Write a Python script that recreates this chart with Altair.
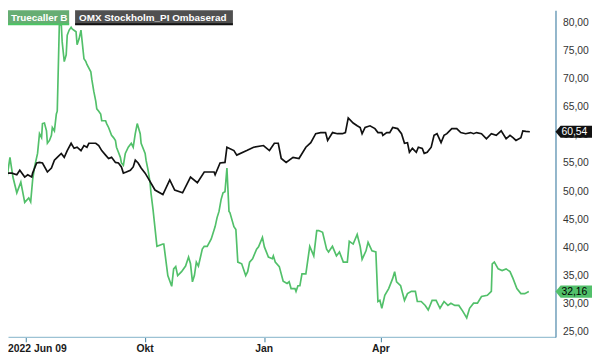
import altair as alt
import pandas as pd

START = "2022-06-09"

# ---- data (day offset from START, value) ----
truecaller_days = [2.2, 3.7, 7.5, 9.8, 12.1, 15.1, 18.2, 21.2, 24.3, 25.8, 27.3, 28.8, 31.1, 32.6, 34.2,
                   34.9, 36.4, 38.0, 38.7, 40.3, 41.8, 42.5, 44.1, 45.6, 46.3, 47.9, 49.4, 50.1, 51.7, 53.2,
                   54.0, 55.5, 57.0, 57.8, 60.8, 61.6, 63.1, 64.6, 66.9, 68.4, 69.2, 72.2, 73.0, 74.5, 76.0,
                   76.8, 78.3, 79.8, 80.6, 83.6, 84.4, 85.9, 88.2, 89.7, 91.2, 92.0, 93.5, 95.0, 95.8, 97.3,
                   98.8, 101.1, 103.4, 104.9, 106.5, 108.0, 110.3, 111.0, 114.1, 114.8, 116.4, 117.9, 118.6,
                   120.2, 123.2, 127.8, 128.5, 131.6, 134.6, 136.1, 137.7, 139.2, 142.2, 145.3, 147.6, 149.1,
                   150.6, 152.1, 153.6, 155.2, 158.2, 159.7, 162.0, 165.1, 168.1, 169.6, 171.1, 172.7, 174.2,
                   175.7, 177.2, 178.8, 179.5, 182.6, 184.1, 185.6, 188.6, 191.7, 193.2, 194.7, 197.0, 200.1,
                   201.6, 204.6, 206.1, 209.2, 212.2, 213.0, 214.5, 217.6, 220.6, 223.6, 225.2, 226.7, 229.7,
                   230.5, 232.0, 233.5, 235.1, 238.1, 241.1, 244.2, 246.5, 248.0, 251.0, 254.1, 255.6, 258.6,
                   261.7, 264.0, 267.0, 270.1, 271.6, 274.6, 277.7, 280.0, 281.5, 284.5, 286.1, 289.1, 292.1,
                   293.7, 295.2, 296.7, 299.0, 302.0, 305.1, 306.6, 308.1, 311.2, 314.2, 316.5, 319.5, 322.6,
                   324.1, 327.1, 330.2, 332.5, 335.5, 338.6, 341.6, 344.7, 347.7, 350.0, 353.0, 356.1, 359.1,
                   362.2, 364.4, 367.5, 370.5, 373.6, 378.1, 381.2, 381.9, 383.5, 386.5, 389.5, 392.6, 395.6,
                   397.9, 400.9, 404.0, 407.0, 410.1]
truecaller_vals = [52.7, 52.0, 52.3, 56.0, 52.5, 49.7, 51.6, 48.0, 48.8, 48.1, 52.0, 54.3, 56.7, 60.2, 59.5,
                   62.0, 62.1, 60.7, 58.5, 59.0, 59.9, 61.3, 60.7, 63.7, 64.2, 79.5, 79.7, 76.5, 73.0, 74.2,
                   77.7, 78.6, 79.1, 78.8, 78.3, 76.0, 77.0, 78.6, 73.5, 73.0, 72.5, 71.2, 69.8, 67.7, 66.0,
                   64.6, 64.2, 63.7, 62.5, 62.5, 62.0, 61.3, 59.9, 59.5, 59.0, 57.8, 56.9, 56.0, 55.0, 54.6,
                   56.7, 57.8, 58.5, 57.8, 60.2, 62.0, 60.2, 58.5, 56.7, 55.5, 53.7, 51.5, 49.7,
                   46.7, 40.2, 40.6, 40.6, 35.0, 33.1, 36.2, 36.6, 35.0, 35.7, 36.7, 38.3, 37.1,
                   33.9, 35.0, 37.4, 36.7, 39.7, 40.2, 40.2, 41.5, 43.7, 45.3, 46.4, 48.5, 49.7,
                   49.9, 54.1, 46.4, 46.2, 43.7, 43.2, 37.4, 37.1, 35.0, 35.7, 37.4, 38.0, 39.7,
                   40.1, 41.8, 40.1, 38.3, 38.0, 38.5, 37.4, 36.6, 34.0, 33.6, 33.9, 32.7, 32.7,
                   32.2, 33.2, 33.2, 35.3, 35.3, 40.2, 38.5, 43.0, 43.0, 42.7, 39.7, 39.2, 40.2,
                   38.5, 39.2, 37.4, 37.4, 41.1, 40.6, 42.3, 40.2, 37.9, 39.4, 40.9, 39.4, 39.2,
                   30.4, 30.6, 29.2, 31.5, 32.7, 34.5, 35.7, 33.9, 33.2, 30.6, 31.8, 32.2, 32.2,
                   30.4, 30.4, 29.7, 28.9, 30.6, 30.6, 29.2, 30.4, 29.7, 30.1, 29.7, 29.7, 28.7,
                   27.5, 29.2, 30.1, 30.1, 31.3, 31.5, 32.2, 37.1, 37.4, 36.2, 35.9, 36.2, 35.7,
                   34.5, 32.7, 31.8, 31.8, 32.16]

omx_days = [2.2, 4.5, 7.5, 11.3, 15.1, 17.4, 21.2, 23.5, 26.6, 27.3, 30.4, 32.6, 34.9, 38.7, 41.8, 44.1,
            46.3, 49.4, 51.7, 54.0, 57.0, 59.3, 61.6, 64.6, 66.9, 69.2, 70.7, 73.0, 76.0, 78.3, 80.6, 83.6,
            85.9, 88.2, 91.2, 93.5, 95.8, 97.3, 99.6, 102.7, 104.9, 106.5, 108.7, 111.0, 114.1, 116.4,
            121.7, 127.8, 133.1, 136.9, 143.0, 149.1, 154.4, 159.7, 167.3, 168.1, 171.9, 175.7, 177.2,
            182.6, 184.8, 192.5, 197.8, 205.4, 210.0, 213.8, 216.8, 219.1, 222.9, 228.2, 232.8, 238.1,
            241.9, 245.7, 249.5, 253.3, 254.9, 258.7, 262.5, 266.3, 268.6, 270.8, 274.6, 277.7, 280.0,
            281.5, 283.8, 287.6, 291.4, 293.7, 296.7, 297.5, 300.5, 302.8, 305.1, 308.9, 311.9, 314.2,
            316.5, 318.0, 320.3, 323.3, 324.9, 327.9, 329.4, 331.7, 334.8, 337.0, 339.3, 342.4, 344.7,
            346.9, 350.7, 354.5, 357.6, 361.4, 365.2, 367.5, 369.8, 373.6, 377.4, 381.2, 385.0, 388.8,
            392.6, 395.6, 397.9, 400.2, 404.0, 405.5, 407.8, 410.9]
omx_vals = [56.4, 55.0, 53.2, 53.2, 52.9, 53.7, 52.5, 52.9, 52.5, 53.2, 55.0, 55.1, 55.0, 53.4, 54.1, 55.5,
            56.0, 56.7, 56.0, 57.2, 58.5, 57.6, 57.8, 57.2, 58.1, 57.8, 58.5, 58.5, 58.5, 58.1, 57.2, 56.4,
            55.8, 56.0, 55.1, 55.0, 54.3, 53.2, 53.4, 53.7, 54.3, 55.5, 55.0, 54.1, 53.2, 52.3,
            50.2, 49.4, 52.0, 50.2, 49.7, 52.5, 51.5, 53.4, 53.4, 52.9, 55.0, 55.1, 57.8,
            57.2, 56.4, 57.2, 57.8, 58.1, 57.2, 58.5, 58.5, 55.8, 55.1, 56.0, 55.8, 57.8,
            58.6, 60.2, 60.4, 60.4, 59.0, 60.4, 60.2, 60.2, 60.4, 63.0, 62.1, 61.6, 61.3,
            60.2, 61.3, 61.6, 61.1, 60.4, 60.4, 59.9, 60.4, 60.4, 61.3, 61.1, 60.2, 58.5,
            58.6, 56.9, 57.6, 56.9, 57.8, 57.6, 56.7, 56.9, 57.8, 59.9, 60.2, 58.6, 59.9,
            60.2, 61.1, 61.1, 60.4, 60.2, 60.4, 60.2, 60.4, 60.2, 59.3, 60.2, 59.9, 60.7,
            59.3, 59.9, 59.5, 59.0, 59.5, 60.7, 60.6, 60.54]

series_names = ["Truecaller B", "OMX Stockholm_PI Ombaserad"]
series_colors = ["#52c06a", "#111111"]
last_labels = ["32,16", "60,54"]

y_ticks = [25, 30, 35, 40, 45, 50, 55, 60, 65, 70, 75, 80]
y_domain = [24.12, 82.1]
x_domain_days = [8.3, 430.7]
x_tick_dates = ["2022-07-01", "2022-10-01", "2023-01-01", "2023-04-01"]
x_tick_labels = ["2022 Jun 09", "Okt", "Jan", "Apr"]

FONT = "Liberation Sans"


def to_ms(ts):
    return int(pd.Timestamp(ts).value // 10**6)


start = pd.Timestamp(START)


def series_frame(name, days, vals):
    t = [to_ms(start + pd.to_timedelta(d, unit="D")) for d in days]
    return pd.DataFrame({"series": name, "t": t, "v": vals, "i": range(len(vals))})


lines_df = pd.concat([
    series_frame(series_names[0], truecaller_days, truecaller_vals),
    series_frame(series_names[1], omx_days, omx_vals),
], ignore_index=True)

last_df = pd.DataFrame({
    "series": series_names,
    "v": [truecaller_vals[-1], omx_vals[-1]],
    "label": last_labels,
})

x_domain = [to_ms(start + pd.to_timedelta(d, unit="D")) for d in x_domain_days]
x_tick_ms = [to_ms(d) for d in x_tick_dates]
xlab_df = pd.DataFrame({"t": x_tick_ms, "label": x_tick_labels})

W, H = 555, 331

color_scale = alt.Scale(domain=series_names, range=series_colors)
y_scale = alt.Scale(domain=y_domain, nice=False, zero=False)
x_scale = alt.Scale(type="utc", domain=x_domain, nice=False)

x_axis = alt.Axis(
    values=x_tick_ms, labels=False, title=None, grid=False,
    tickSize=5, tickColor="#3f7fa0", domainColor="#9cc2d4", domainWidth=1.5,
)
y_axis = alt.Axis(
    orient="right", values=y_ticks, title=None, grid=False, ticks=False,
    labelExpr="replace(format(datum.value, '.2f'), '.', ',')",
    domainColor="#4a86a8", domainWidth=1.2, labelOverlap=False,
    labelFont=FONT, labelFontSize=10.5, labelColor="#333333", labelPadding=7,
)
x_enc = alt.X("t:T", scale=x_scale, axis=x_axis)
y_enc = alt.Y("v:Q", scale=y_scale, axis=y_axis)

lines = alt.Chart(lines_df).mark_line(strokeWidth=1.7, clip=True).encode(
    x=x_enc, y=y_enc,
    color=alt.Color("series:N", scale=color_scale, legend=None),
    order="i:Q",
)

# x tick labels as text (first one pushed inside the page edge)
xlab_first = alt.Chart(xlab_df.iloc[:1]).mark_text(
    font=FONT, fontSize=10.5, fontWeight="bold", color="#1a1a1a", align="left", baseline="middle", dx=-18
).encode(x=x_enc, y=alt.value(H + 12), text="label:N")
xlab_rest = alt.Chart(xlab_df.iloc[1:]).mark_text(
    font=FONT, fontSize=10.5, fontWeight="bold", color="#1a1a1a", align="center", baseline="middle"
).encode(x=x_enc, y=alt.value(H + 12), text="label:N")

TAG = "M -1 0 L -0.72 -0.33 L 1 -0.33 L 1 0.33 L -0.72 0.33 Z"
tags = alt.Chart(last_df).mark_point(
    shape=TAG, size=1369, filled=True, opacity=1, strokeWidth=0
).encode(
    x=alt.value(W + 18.5),
    y=y_enc,
    color=alt.Color("series:N", scale=color_scale, legend=None),
)
tag_text = alt.Chart(last_df).mark_text(
    font=FONT, fontSize=10.5, align="left", baseline="middle"
).encode(
    x=alt.value(W + 6),
    y=y_enc,
    text="label:N",
    color=alt.condition(alt.datum.series == series_names[0], alt.value("#000000"), alt.value("#ffffff")),
)

leg1_df = pd.DataFrame({"series": [series_names[0]]})
leg2_df = pd.DataFrame({"series": [series_names[1]]})
leg1_box = alt.Chart(leg1_df).mark_rect(color="#66ad73").encode(
    x=alt.value(0), x2=alt.value(62), y=alt.value(0), y2=alt.value(14))
leg1_line = alt.Chart(leg1_df).mark_rect(color="#4cc463").encode(
    x=alt.value(0), x2=alt.value(62), y=alt.value(13), y2=alt.value(15))
leg1_text = alt.Chart(leg1_df).mark_text(
    font=FONT, fontSize=10, fontWeight="bold", color="white", align="left", baseline="middle"
).encode(x=alt.value(3), y=alt.value(7.5), text="series:N")
leg2_box = alt.Chart(leg2_df).mark_rect(color="#505050").encode(
    x=alt.value(68), x2=alt.value(228), y=alt.value(0), y2=alt.value(14))
leg2_line = alt.Chart(leg2_df).mark_rect(color="#111111").encode(
    x=alt.value(68), x2=alt.value(228), y=alt.value(13), y2=alt.value(15))
leg2_text = alt.Chart(leg2_df).mark_text(
    font=FONT, fontSize=10, fontWeight="bold", color="white", align="left", baseline="middle"
).encode(x=alt.value(72), y=alt.value(7.5), text="series:N")

chart = alt.layer(
    lines, xlab_first, xlab_rest, tags, tag_text,
    leg1_box, leg1_line, leg1_text, leg2_box, leg2_line, leg2_text
).properties(
    width=W, height=H,
    autosize=alt.AutoSizeParams(type="none"),
    padding={"left": 0, "top": 0, "right": 37, "bottom": 18},
    background="white",
).configure_view(stroke=None).configure_axis(labelOverlap=False)

chart.save("out.html", embed_options={"renderer": "svg", "actions": False})
